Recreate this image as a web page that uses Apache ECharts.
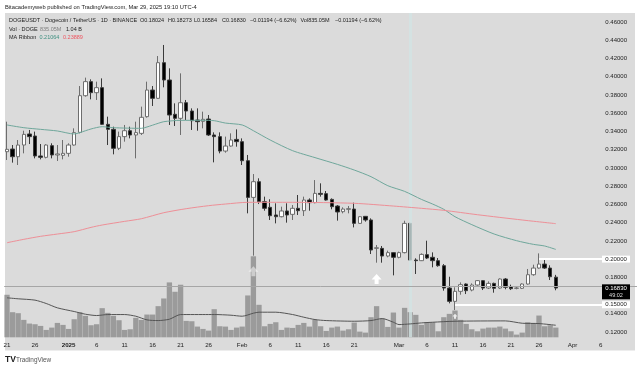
<!DOCTYPE html>
<html>
<head>
<meta charset="utf-8">
<style>html,body{margin:0;padding:0;background:#fff}#c{width:640px;height:368px}</style>
<script src="https://cdn.jsdelivr.net/npm/echarts@6/dist/echarts.min.js"></script>
</head>
<body>
<div id="c"></div>
<script>
const opens=[.3178,.3207,.3123,.3251,.3372,.3350,.3131,.3116,.3244,.3142,
.3138,.3160,.3251,.3390,.3792,.3946,.3825,.3880,.3478,.3423,
.3215,.3343,.3408,.3361,.3379,.3562,.3854,.3763,.4154,.3964,
.3588,.3544,.3715,.3624,.3525,.3511,.3536,.3361,.3343,.3185,
.3240,.3313,.3288,.3079,.2677,.2849,.2630,.2568,.2484,.2465,
.2528,.2491,.2557,.2531,.2648,.2619,.2721,.2718,.2655,.2582,
.2520,.2546,.2549,.2392,.2469,.2429,.2118,.2118,.2034,.2071,
.2020,.2071,.2392,.1990,.1983,.2049,.2020,.1983,.1928,.1683,
.1537,.1647,.1727,.1661,.1716,.1764,.1683,.1734,.1683,.1782,
.1698,.1680,.1680,.1727,.1829,.1902,.1946,.1902,.18024];
const closes=[.3204,.3123,.3251,.3368,.3343,.3131,.3116,.3251,.3142,.3153,
.3160,.3251,.3387,.3792,.3946,.3825,.3880,.3478,.3423,.3215,
.3343,.3408,.3361,.3387,.3555,.3854,.3763,.4154,.3964,.3580,
.3544,.3715,.3624,.3518,.3507,.3533,.3361,.3343,.3185,.3240,
.3306,.3288,.3079,.2677,.2849,.2630,.2557,.2476,.2465,.2528,
.2484,.2557,.2531,.2648,.2619,.2721,.2710,.2648,.2575,.2517,
.2549,.2553,.2392,.2465,.2429,.2100,.2125,.2034,.2071,.2020,
.2071,.2392,.1990,.1983,.2052,.2012,.1983,.1928,.1683,.1537,
.1647,.1720,.1654,.1716,.1764,.1683,.1734,.1680,.1782,.1691,
.1676,.1683,.1727,.1829,.1902,.1946,.1902,.1807,.16830];
const highs=[.3507,.3251,.3306,.3408,.3416,.3398,.3262,.3260,.3270,.3251,
.3306,.3270,.3434,.3898,.3990,.3971,.3946,.3982,.3562,.3452,
.3398,.3471,.3452,.3507,.3672,.3946,.3898,.4227,.4348,.4092,
.3708,.4037,.3745,.3653,.3653,.3617,.3580,.3390,.3390,.3343,
.3379,.3423,.3324,.3142,.2933,.2886,.2685,.2656,.2612,.2575,
.2612,.2593,.2703,.2685,.2666,.2867,.2831,.2747,.2666,.2593,
.2568,.2582,.2619,.2473,.2473,.2447,.2155,.2144,.2093,.2075,
.2082,.2421,.2400,.2009,.2063,.2202,.2074,.2012,.1946,.1807,
.1691,.1745,.1734,.1734,.1771,.1771,.1756,.1742,.1789,.1793,
.1720,.1698,.1734,.1892,.1939,.2063,.2001,.1932,.18273];
const lows=[.3087,.3058,.3032,.3160,.3262,.3105,.3094,.3105,.3105,.3076,
.3094,.3123,.3244,.3379,.3781,.3752,.3745,.3471,.3251,.3149,
.3196,.3288,.3324,.3105,.3361,.3551,.3679,.3756,.3884,.3471,
.3460,.3361,.3525,.3416,.3408,.3434,.3350,.3061,.3160,.3167,
.3233,.3233,.3032,.2502,.2038,.2604,.2531,.2429,.2392,.2458,
.2400,.2429,.2484,.2473,.2531,.2612,.2685,.2641,.2546,.2422,
.2502,.2502,.2348,.2385,.2411,.2056,.1961,.1961,.2020,.1822,
.2009,.2063,.1983,.1837,.1979,.2001,.1910,.1917,.1654,.1515,
.1442,.1610,.1617,.1647,.1709,.1661,.1672,.1632,.1672,.1669,
.1661,.1669,.1672,.1720,.1818,.1895,.1892,.1771,.16584];
const volumesM=[3658,2160,2074,1498,1181,1123,979,634,835,1238,1066,720,1555,2160,1843,1037,1123,2506,2102,1843,
1469,634,691,1670,1498,1958,1958,2678,3341,4723,3917,4522,1411,1382,922,720,576,
2419,950,922,634,835,922,3600,6970,2794,950,1152,1296,634,835,806,1066,1238,922,1526,950,547,835,922,576,691,1267,490,403,1728,2678,1613,893,2131,835,2534,2160,1930,1066,
1296,1296,518,1728,2016,2304,1498,1152,691,518,749,835,835,922,749,518,230,403,1296,1238,1872,950,1037,835];

const greenMA=[[0,.3471],[3,.3441],[6,.3423],[9,.3405],[12,.3372],[13,.3387],[15,.3427],[17,.3452],[19,.3441],[24,.3434],[25,.3449],[27,.3489],[28,.3507],[31,.3522],[35,.3522],[37,.3518],[39,.3492],[42,.3471],[44,.3408],[47,.3306],[51,.3189],[55,.3113],[59,.3039],[62,.2977],[65,.2904],[68,.2805],[71,.2743],[74,.2655],[76,.2604],[78,.2546],[80,.2465],[83,.2378],[87,.2275],[91,.2202],[94,.2162],[96,.2144],[98,.21064]];
const redMA=[[0,.2180],[3,.2217],[6,.2250],[9,.2275],[12,.2301],[15,.2348],[17,.2374],[21,.2414],[24,.2443],[28,.2509],[32,.2553],[36,.2586],[39,.2604],[43,.2623],[51,.2623],[62,.2612],[69,.2582],[74,.2557],[78,.2535],[84,.2487],[92,.2429],[98,.23889]];
const volMA=[[0,3398],[2,3312],[5,3197],[7,2909],[9,2534],[12,2218],[14,1987],[16,1872],[18,1958],[21,1958],[23,1814],[25,1498],[27,1440],[29,1555],[31,1958],[36,1958],[37,1958],[40,1901],[42,1814],[44,2074],[45,2160],[48,2160],[51,1958],[53,1728],[55,1526],[57,1440],[62,1382],[65,1440],[67,1613],[69,1296],[70,1094],[72,1152],[74,1238],[76,1296],[80,1382],[89,1411],[92,1210],[95,1181],[98,1037]];

const priceTicks=[.12,.14,.18,.20,.22,.24,.26,.28,.30,.32,.34,.36,.38,.40,.42,.44,.46];
const dateTicks={'2024-12-21':'21','2024-12-26':'26','2025-01-01':'2025','2025-01-06':'6','2025-01-11':'11','2025-01-16':'16','2025-01-21':'21','2025-01-26':'26','2025-02-01':'Feb','2025-02-06':'6','2025-02-11':'11','2025-02-16':'16','2025-02-21':'21','2025-03-01':'Mar','2025-03-06':'6','2025-03-11':'11','2025-03-16':'16','2025-03-21':'21','2025-03-26':'26','2025-04-01':'Apr','2025-04-06':'6'};
const arrows=[[44,.1866,.5,10],[66,.1782,1,10],[80,.1373,.8,5]];
const lastPrice=.1683, resistance=.20, support=.15;
const hiliteDay=72, resistanceStart=95, supportStart=80, tagDay=109, levelEnd=107;

const categories=[];
for(let i=0;i<113;i++){categories.push(new Date(Date.UTC(2024,11,21+i)).toISOString().slice(0,10));}
const candle=opens.map((o,i)=>[o,closes[i],lows[i],highs[i]]);
const FONT='"Liberation Sans",sans-serif';
const arrowPath='path://M5,0 L10,5.5 L7,5.5 L7,10 L3,10 L3,5.5 L0,5.5 Z';

const txt=(x,y,s,fill,size,extra)=>({type:'text',silent:true,z:50,x:x,y:y,style:Object.assign({text:s,fill:fill,font:(size||5.5)+'px '+FONT,textVerticalAlign:'middle'},extra||{})});

const chart=echarts.init(document.getElementById('c'),null,{renderer:'canvas'});
chart.setOption({
  animation:false,
  backgroundColor:'#ffffff',
  graphic:[
    {type:'rect',silent:true,z:-10,shape:{x:5,y:13,width:630,height:337.5},style:{fill:'#dbdbdb'}},
    txt(5,7,'Bitacademyweb published on TradingView.com, Mar 29, 2025 19:10 UTC-4','#222',5.75),
    txt(9,20,'DOGEUSDT · Dogecoin / TetherUS · 1D · BINANCE','#222'),
    txt(140,20,'O0.18024','#222'),
    txt(168,20,'H0.18273','#222'),
    txt(194,20,'L0.16584','#222'),
    txt(222,20,'C0.16830','#222'),
    txt(250,20,'−0.01194 (−6.62%)','#222'),
    txt(300.5,20,'Vol835.05M','#222'),
    txt(335,20,'−0.01194 (−6.62%)','#222'),
    txt(9,29,'Vol · DOGE','#222'),
    txt(40,29,'835.05M','#808080'),
    txt(66,29,'1.04 B','#222'),
    txt(9,37,'MA Ribbon','#222'),
    txt(39.5,37,'0.21064','#3f9080'),
    txt(63,37,'0.23889','#ee5560'),
    txt(5,360,'TV','#222',8.5,{font:'bold 8.5px "Liberation Sans"'}),
    txt(16,360,'TradingView','#555',6.4)
  ],
  grid:{left:4.2,width:632.8,top:13,height:324.3,containLabel:false},
  xAxis:{type:'category',data:categories,boundaryGap:true,
    axisLine:{show:false},axisTick:{show:false},splitLine:{show:false},
    axisLabel:{margin:4,fontSize:6.2,fontFamily:FONT,color:'#222',lineHeight:8,
      interval:(i,v)=>v in dateTicks,
      formatter:v=>dateTicks[v]==='2025'?'{b|2025}':(dateTicks[v]||''),
      rich:{b:{fontSize:6.2,fontWeight:'bold',fontFamily:FONT,color:'#222'}},
      hideOverlap:false}},
  yAxis:[
    {type:'value',min:.11428,max:.46987,position:'right',scale:true,
      axisLine:{show:false},axisTick:{show:false},splitLine:{show:false},
      axisLabel:{inside:true,margin:10,fontSize:6,fontFamily:FONT,color:'#222',customValues:priceTicks,formatter:v=>v.toFixed(5)}},
    {type:'value',min:0,max:27900,show:false,splitLine:{show:false}}
  ],
  series:[
    {type:'candlestick',name:'DOGEUSDT',z:3,data:candle,barWidth:4,
      itemStyle:{color:'#ffffff',color0:'#000000',borderColor:'#6e6e6e',borderColor0:'#3a3a3a',borderWidth:1},
      markLine:{silent:true,symbol:'none',animation:false,label:{show:false},data:[
        {xAxis:categories[hiliteDay],lineStyle:{color:'rgba(210,228,228,0.8)',width:3,type:'solid'}},
        {yAxis:lastPrice,lineStyle:{color:'#a6a6a6',width:1,type:'solid'}},
        [{coord:[categories[resistanceStart],resistance],lineStyle:{color:'#ffffff',width:2,type:'solid'}},{coord:[categories[levelEnd],resistance]}],
        [{coord:[categories[supportStart],support],lineStyle:{color:'#ffffff',width:2,type:'solid'}},{coord:[categories[levelEnd],support]}]
      ]}},
    {type:'bar',name:'Vol',yAxisIndex:1,z:4,data:volumesM,barWidth:5.3,itemStyle:{color:'rgba(130,130,130,0.72)'}},
    {type:'line',name:'VolMA',yAxisIndex:1,z:5,data:volMA,showSymbol:false,smooth:.25,lineStyle:{color:'#555555',width:1}},
    {type:'line',name:'MA1',z:5,data:greenMA,showSymbol:false,smooth:.25,lineStyle:{color:'#6fa79b',width:1}},
    {type:'line',name:'MA2',z:5,data:redMA,showSymbol:false,smooth:.25,lineStyle:{color:'#ee8f97',width:1}},
    {type:'scatter',name:'Arrows',z:6,data:arrows.map(a=>({value:[a[0],a[1]],symbolSize:a[3],itemStyle:{opacity:a[2]}})),symbol:arrowPath,itemStyle:{color:'#ffffff'}},
    {type:'line',name:'Tags',z:8,data:[],markPoint:{silent:true,animation:false,data:[
      {coord:[tagDay,resistance],symbol:'rect',symbolSize:[28,7],symbolOffset:[-1.4,0],itemStyle:{color:'#fff'},label:{show:true,position:'inside',formatter:'0.20000',color:'#222',fontSize:6,fontFamily:FONT}},
      {coord:[tagDay,support],symbol:'rect',symbolSize:[28,7],symbolOffset:[-1.4,0],itemStyle:{color:'#fff'},label:{show:true,position:'inside',formatter:'0.15000',color:'#222',fontSize:6,fontFamily:FONT}},
      {coord:[tagDay,lastPrice],symbol:'rect',symbolSize:[28,15],symbolOffset:[-1.4,3.8],itemStyle:{color:'#000'},label:{show:true,position:'inside',formatter:'{a|0.16830}\n{b|49:02}',rich:{a:{color:'#fff',fontSize:6,fontFamily:FONT,lineHeight:7.5},b:{color:'#ddd',fontSize:5.5,fontFamily:FONT,lineHeight:6.5}}}}
    ]}}
  ]
});
</script>
</body>
</html>
